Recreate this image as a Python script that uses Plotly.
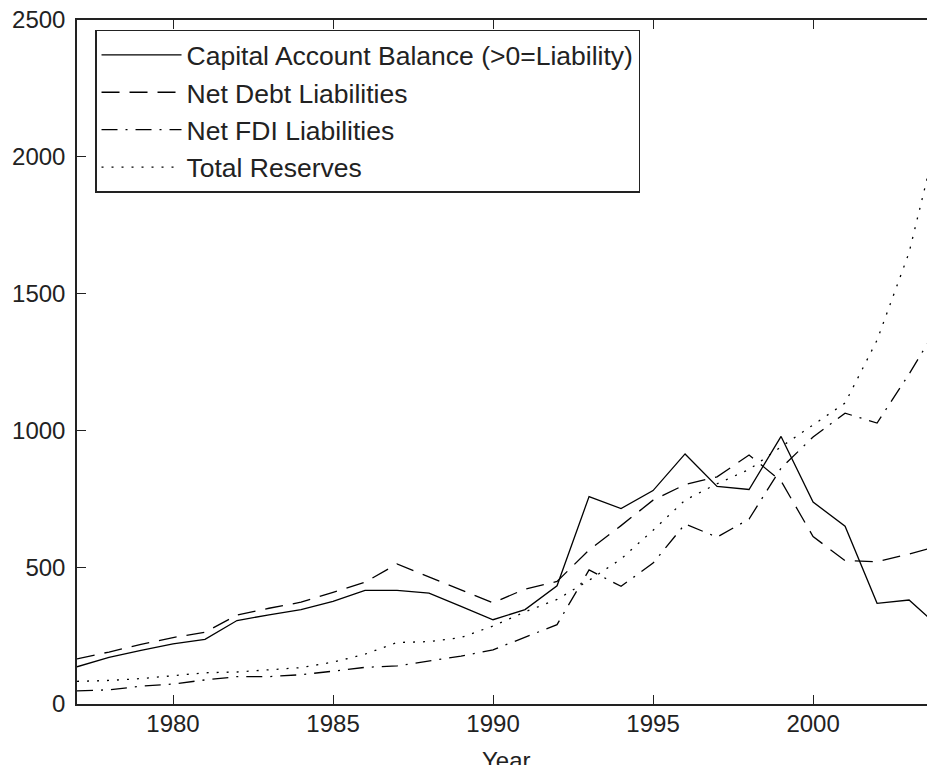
import plotly.graph_objects as go

years = list(range(1977, 2005))

capital_account = [136, 170, 196, 220, 236, 305, 326, 345, 375, 415, 415, 405, 357, 308,
                   345, 432, 758, 714, 780, 914, 795, 784, 978, 738, 650, 368, 380, 275]
net_debt = [165, 190, 218, 243, 262, 325, 350, 372, 408, 445, 512, 465, 418, 370,
            420, 448, 563, 652, 745, 802, 830, 910, 815, 612, 524, 520, 548, 580]
net_fdi = [48, 52, 65, 73, 88, 100, 100, 107, 120, 134, 139, 158, 175, 198,
           245, 290, 490, 430, 515, 658, 610, 676, 862, 976, 1063, 1027, 1206, 1400]
total_reserves = [83, 86, 93, 103, 114, 117, 124, 133, 153, 182, 225, 228, 243, 285,
                  337, 382, 452, 530, 635, 745, 805, 857, 940, 1020, 1100, 1330, 1650, 2130]

series_names = ["Capital Account Balance (>0=Liability)", "Net Debt Liabilities",
                "Net FDI Liabilities", "Total Reserves"]
series_values = [capital_account, net_debt, net_fdi, total_reserves]
dashes = ["solid", "18px,10px", "16px,8px,2px,8px", "2px,8px"]

x_ticks = [1980, 1985, 1990, 1995, 2000]
y_ticks = [0, 500, 1000, 1500, 2000, 2500]
x_title = "Year"

FONT = "Liberation Sans, Arial, sans-serif"

fig = go.Figure()
for name, vals, dash in zip(series_names, series_values, dashes):
    fig.add_trace(go.Scatter(x=years, y=vals, mode="lines", name=name,
                             line=dict(color="black", width=1.3, dash=dash)))

# invisible helper trace so the right-hand (tick-only) axis is drawn
fig.add_trace(go.Scatter(x=[None], y=[None], yaxis="y2", showlegend=False,
                         hoverinfo="skip"))

fig.update_layout(
    width=927, height=757,
    margin=dict(l=69, r=0, t=12, b=61, autoexpand=False),
    paper_bgcolor="white", plot_bgcolor="white",
    font=dict(family=FONT, size=24, color="#222"),
    showlegend=True,
    legend=dict(x=0.021, y=0.986, xanchor="left", yanchor="top",
                bgcolor="white", bordercolor="#222", borderwidth=1.5,
                font=dict(family=FONT, size=26.5, color="#222"),
                itemwidth=80, tracegroupgap=0),
    xaxis=dict(range=[1977, 2003.81], tickvals=x_ticks, ticks="inside", ticklen=9,
               tickwidth=1.3, tickcolor="#222", showline=True, linecolor="#222",
               linewidth=1.5, mirror="ticks", showgrid=False, zeroline=False,
               ticklabelstandoff=-3, ticklabeloverflow="allow"),
    yaxis=dict(range=[0, 2500], tickvals=y_ticks, ticks="inside", ticklen=9,
               tickwidth=1.3, tickcolor="#222", showline=True, linecolor="#222",
               linewidth=1.5, showgrid=False, zeroline=False, ticklabelstandoff=5,
               ticklabeloverflow="allow"),
    yaxis2=dict(range=[0, 2500], tickvals=y_ticks, overlaying="y", side="right",
                ticks="inside", ticklen=3, tickwidth=1.3, tickcolor="#222",
                showticklabels=False, showline=False, showgrid=False, zeroline=False),
    annotations=[dict(text=x_title, xref="paper", yref="paper", x=0.5, y=0,
                      xanchor="center", yanchor="middle", yshift=-56, showarrow=False,
                      font=dict(family=FONT, size=24, color="#222"))],
)

fig.write_html("out.html")
